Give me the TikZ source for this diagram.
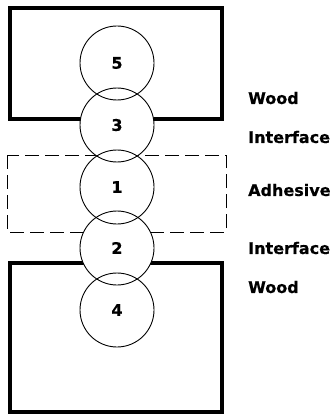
\documentclass[tikz,border=0pt]{standalone}
\usepackage{fontspec}
\newfontfamily\labelfont{DejaVu Sans}[BoldFont={DejaVu Sans Bold},BoldFeatures={FakeBold=0.6}]
\tikzset{
  woodbox/.style={line width=3.5pt},
  gluebox/.style={line width=0.9pt,dash pattern=on 14pt off 6pt},
  zone/.style={circle,draw,line width=0.9pt,minimum size=74pt,inner sep=0pt,
    font=\labelfont\bfseries\fontsize{16}{18}\selectfont},
  layer/.style={anchor=west,inner sep=0pt,font=\labelfont\bfseries\fontsize{16}{18}\selectfont}
}
\begin{document}
\begin{tikzpicture}[x=1pt,y=-1pt]

\useasboundingbox (0,0) rectangle (335,417);

% wood and adhesive layers
\draw[woodbox] (10,8) rectangle (222,119);
\draw[gluebox] (7,155) rectangle (226,232);
\draw[woodbox] (10,263) rectangle (222,412);

% clear the layer lines inside the zones
\foreach \y in {63,125,187,248,310}
  \fill[white] (117,\y) circle (37pt);

\node[zone] (z5) at (117,63) {5};
\node[zone] (z3) at (117,125) {3};
\node[zone] (z1) at (117,187) {1};
\node[zone] (z2) at (117,248) {2};
\node[zone] (z4) at (117,310) {4};

\node[layer] (w1) at (248,98) {Wood};
\node[layer] (i1) at (248,137) {Interface};
\node[layer] (ad) at (248,190) {Adhesive};
\node[layer] (i2) at (248,248) {Interface};
\node[layer] (w2) at (248,287) {Wood};

\end{tikzpicture}
\end{document}
